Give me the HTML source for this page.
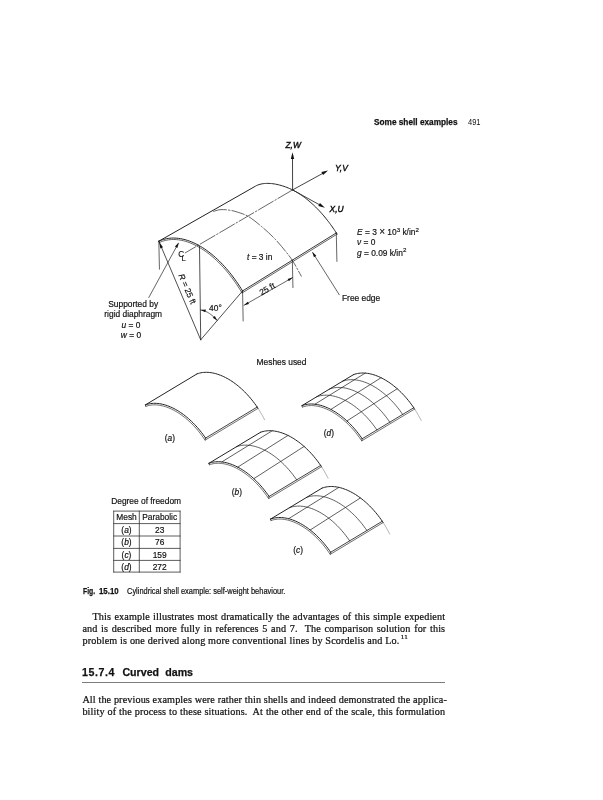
<!DOCTYPE html>
<html lang="en"><head><meta charset="utf-8"><title>Some shell examples</title>
<style>
html,body{margin:0;padding:0;background:#fff;}
body{width:603px;height:800px;position:relative;overflow:hidden;font-family:"Liberation Serif",serif;color:#111;}
svg{position:absolute;left:0;top:0;}
#page{position:absolute;left:0;top:0;width:603px;height:800px;will-change:transform;}
svg text{font-family:"Liberation Sans",sans-serif;fill:#111;stroke:#111;stroke-width:0.18px;}
svg text.lt{stroke-width:0.05px;}
svg text.bd{stroke-width:0.42px;}
.t{position:absolute;white-space:nowrap;line-height:1;}
.sans{font-family:"Liberation Sans",sans-serif;transform-origin:0 0;}
.b{font-weight:bold;-webkit-text-stroke:0.25px #111;}
.body{font-family:"Liberation Serif",serif;font-size:10.2px;letter-spacing:0.12px;left:82.4px;width:362.8px;text-align:justify;text-align-last:justify;-webkit-text-stroke:0.22px #111;}
.hr{position:absolute;left:82.4px;width:362.8px;height:1px;background:#7d7d7d;top:682px;}
sup{font-size:7px;line-height:0;vertical-align:4.1px;letter-spacing:0.3px;margin-left:1.2px;}
</style></head><body>
<div id="page">
<div class="t sans b" id="hd1" style="left:374.4px;top:117.5px;font-size:9.3px;transform:scaleX(0.888)">Some shell examples</div>
<div class="t sans" id="hd2" style="left:467.9px;top:117.5px;font-size:9.3px;transform:scaleX(0.805)">491</div>
<svg width="603" height="800" viewBox="0 0 603 800">
<path d="M158.84 241.19 L160.34 240.54 L161.87 239.96 L163.43 239.46 L165.01 239.04 L166.63 238.68 L168.27 238.41 L169.93 238.21 L171.62 238.09 L173.33 238.05 L175.06 238.08 L176.81 238.19 L178.58 238.38 L180.36 238.64 L182.16 238.98 L183.97 239.40 L185.80 239.89 L187.64 240.46 L189.49 241.10 L191.34 241.82 L193.21 242.61 L195.07 243.47 L196.95 244.41 L198.82 245.42 L200.70 246.50 L202.58 247.65 L204.45 248.87 L206.33 250.16 L208.19 251.52 L210.06 252.94 L211.91 254.43 L213.76 255.99 L215.60 257.60 L217.43 259.28 L219.24 261.02 L221.04 262.82 L222.82 264.68 L224.59 266.60 L226.34 268.57 L228.07 270.59 L229.78 272.67 L231.47 274.79 L233.13 276.97 L234.77 279.19 L236.39 281.46 L237.97 283.78 L239.53 286.13 L241.06 288.53 L242.56 290.96" fill="none" stroke="#222" stroke-width="1.0" stroke-linecap="round" stroke-linejoin="round"/>
<path d="M158.84 241.19 L255.53 186.13 L256.36 185.69 L257.23 185.28 L258.14 184.91 L259.09 184.58 L260.07 184.29 L261.09 184.04 L262.14 183.83 L263.22 183.66 L264.34 183.53 L265.48 183.44 L266.65 183.39 L267.85 183.38 L269.08 183.41 L270.33 183.48 L271.60 183.59 L272.90 183.74 L274.22 183.93 L275.56 184.16 L276.91 184.43 L278.29 184.74 L279.67 185.09 L281.07 185.47 L282.49 185.90 L283.91 186.36 L285.35 186.86 L286.79 187.40 L288.24 187.97 L289.69 188.58 L291.14 189.22 L292.60 189.90 L293.58 190.42 L294.56 190.95 L295.54 191.51 L296.52 192.08 L297.50 192.67 L298.47 193.28 L299.45 193.90 L300.42 194.55 L301.40 195.21 L302.37 195.88 L303.34 196.58 L304.31 197.29 L305.27 198.02 L306.24 198.77 L307.20 199.53 L308.15 200.31 L309.11 201.10 L310.06 201.91 L311.01 202.74 L311.95 203.59 L312.90 204.44 L313.83 205.32 L314.77 206.21 L315.70 207.11 L316.62 208.04 L317.54 208.97 L318.46 209.92 L319.37 210.89 L320.27 211.86 L321.17 212.86 L322.07 213.86 L322.96 214.89 L323.84 215.92 L324.72 216.97 L325.59 218.03 L326.46 219.10 L327.32 220.19 L328.17 221.29 L329.02 222.40 L329.85 223.53 L330.69 224.66 L331.51 225.81 L332.33 226.97 L333.14 228.14 L333.94 229.32 L334.74 230.52 L335.52 231.72 L336.30 232.93" fill="none" stroke="#222" stroke-width="1.0" stroke-linecap="round" stroke-linejoin="round"/>
<path d="M242.56 290.96 L336.30 232.93" fill="none" stroke="#222" stroke-width="0.9" stroke-linecap="round" stroke-linejoin="round"/>
<path d="M159.42 242.52 L160.88 241.89 L162.35 241.33 L163.84 240.85 L165.36 240.44 L166.90 240.11 L168.47 239.85 L170.07 239.66 L171.69 239.54 L173.33 239.50 L175.00 239.53 L176.69 239.64 L178.39 239.82 L180.12 240.07 L181.86 240.40 L183.62 240.81 L185.40 241.28 L187.19 241.84 L188.99 242.46 L190.80 243.16 L192.62 243.93 L194.44 244.78 L196.28 245.70 L198.12 246.69 L199.96 247.75 L201.80 248.88 L203.65 250.08 L205.49 251.35 L207.33 252.68 L209.16 254.08 L210.99 255.55 L212.82 257.09 L214.63 258.68 L216.43 260.34 L218.22 262.06 L220.00 263.84 L221.77 265.68 L223.52 267.57 L225.25 269.52 L226.96 271.52 L228.65 273.58 L230.32 275.68 L231.97 277.84 L233.60 280.04 L235.20 282.29 L236.77 284.59 L238.32 286.92 L239.83 289.30 L242.09 292.96 L337.06 234.17" fill="none" stroke="#222" stroke-width="0.7" stroke-linecap="round" stroke-linejoin="round"/>
<path d="M158.84 241.19 L159.42 242.52" fill="none" stroke="#222" stroke-width="0.7" stroke-linecap="round" stroke-linejoin="round"/>
<path d="M242.56 290.96 L242.09 292.96" fill="none" stroke="#222" stroke-width="0.7" stroke-linecap="round" stroke-linejoin="round"/>
<path d="M336.30 232.93 L337.06 234.17" fill="none" stroke="#222" stroke-width="0.7" stroke-linecap="round" stroke-linejoin="round"/>
<path d="M213.70 211.40 C215.30 210.90 216.83 210.20 218.50 209.90 C220.17 209.60 221.78 209.53 223.70 209.60 C225.62 209.67 227.87 209.93 230.00 210.30 C232.13 210.67 233.43 210.77 236.50 211.80 C239.57 212.83 244.15 213.98 248.40 216.50 C252.65 219.02 257.60 223.18 262.00 226.90 C266.40 230.62 270.83 234.68 274.80 238.80 C278.77 242.92 282.75 247.80 285.80 251.60 C288.85 255.40 290.52 257.50 293.10 261.60 C295.68 265.70 298.57 271.33 301.30 276.20" fill="none" stroke="#333" stroke-width="0.75" stroke-dasharray="13 2 1.5 2" stroke-linecap="round" stroke-linejoin="round"/>
<path d="M292.6 189.9 L185.2 252.9" fill="none" stroke="#333" stroke-width="0.75" stroke-dasharray="17 2 1.5 2" stroke-linecap="round" stroke-linejoin="round"/>
<path d="M158.84 241.19 L159.44 269.19" fill="none" stroke="#222" stroke-width="0.7" stroke-linecap="round" stroke-linejoin="round"/>
<path d="M242.56 290.96 L243.16 320.96" fill="none" stroke="#222" stroke-width="0.7" stroke-linecap="round" stroke-linejoin="round"/>
<path d="M292.34 260.15 L292.94 287.65" fill="none" stroke="#222" stroke-width="0.7" stroke-linecap="round" stroke-linejoin="round"/>
<path d="M336.30 232.93 L336.90 261.43" fill="none" stroke="#222" stroke-width="0.7" stroke-linecap="round" stroke-linejoin="round"/>
<path d="M158.84 241.19 L200.70 339.80" fill="none" stroke="#222" stroke-width="0.8" stroke-linecap="round" stroke-linejoin="round"/>
<path d="M242.56 290.96 L200.70 339.80" fill="none" stroke="#222" stroke-width="0.8" stroke-linecap="round" stroke-linejoin="round"/>
<path d="M199.50 246.40 L200.70 339.80" fill="none" stroke="#222" stroke-width="0.8" stroke-linecap="round" stroke-linejoin="round"/>
<path d="M159.34 242.39 L163.06 247.33 L160.30 248.50 Z" fill="#111" stroke="none"/>
<path d="M200.70 309.94 L201.43 310.04 L202.17 310.19 L202.94 310.37 L203.71 310.61 L204.50 310.88 L205.30 311.20 L206.11 311.57 L206.94 311.98 L207.77 312.44 L208.61 312.95 L209.46 313.50 L210.31 314.09 L211.17 314.74 L212.04 315.43 L212.90 316.16 L213.77 316.94 L214.64 317.77 L215.51 318.64 L216.37 319.55 L217.24 320.51" fill="none" stroke="#222" stroke-width="0.7" stroke-linecap="round" stroke-linejoin="round"/>
<path d="M200.70 309.94 L205.87 309.51 L205.35 312.26 Z" fill="#111" stroke="none"/>
<path d="M217.24 320.51 L212.78 317.84 L214.82 315.92 Z" fill="#111" stroke="none"/>
<path d="M292.60 189.90 L292.50 155.50" fill="none" stroke="#222" stroke-width="0.85" stroke-linecap="round" stroke-linejoin="round"/>
<path d="M292.50 152.30 L294.22 158.90 L290.82 158.90 Z" fill="#111" stroke="none"/>
<path d="M292.60 189.90 L325.60 171.80" fill="none" stroke="#222" stroke-width="0.85" stroke-linecap="round" stroke-linejoin="round"/>
<path d="M328.00 170.40 L323.04 175.07 L321.40 172.10 Z" fill="#111" stroke="none"/>
<path d="M292.60 189.90 L322.40 206.40" fill="none" stroke="#222" stroke-width="0.85" stroke-linecap="round" stroke-linejoin="round"/>
<path d="M324.90 207.80 L318.30 206.09 L319.95 203.11 Z" fill="#111" stroke="none"/>
<path d="M244.00 305.30 L292.60 277.60" fill="none" stroke="#222" stroke-width="0.7" stroke-linecap="round" stroke-linejoin="round"/>
<path d="M244.00 305.30 L247.70 301.69 L248.99 303.95 Z" fill="#111" stroke="none"/>
<path d="M292.60 277.60 L288.90 281.21 L287.61 278.95 Z" fill="#111" stroke="none"/>
<path d="M339.3 294.8 L312.8 252.8" fill="none" stroke="#222" stroke-width="0.7" stroke-linecap="round" stroke-linejoin="round"/>
<path d="M312.20 251.80 L316.32 255.71 L313.95 257.20 Z" fill="#111" stroke="none"/>
<path d="M148.8 297.5 L178.2 243.6" fill="none" stroke="#222" stroke-width="0.7" stroke-linecap="round" stroke-linejoin="round"/>
<path d="M178.80 242.40 L177.40 247.90 L174.94 246.56 Z" fill="#111" stroke="none"/>
<text x="285.50" y="148.30" font-size="8.4" text-anchor="start" class="bd"><tspan style="font-style:italic">Z,W</tspan></text>
<text x="335.00" y="170.50" font-size="8.4" text-anchor="start" class="bd"><tspan style="font-style:italic">Y,V</tspan></text>
<text x="329.60" y="212.30" font-size="8.4" text-anchor="start" class="bd"><tspan style="font-style:italic">X,U</tspan></text>
<text x="357.00" y="235.30" font-size="8.4" text-anchor="start" ><tspan style="font-style:italic">E</tspan> = 3 <tspan font-size="10">×</tspan> 10<tspan dy="-3.4" font-size="6.2">3</tspan><tspan dy="3.4"> k/in</tspan><tspan dy="-3.4" font-size="6.2">2</tspan></text>
<text x="357.00" y="245.40" font-size="8.4" text-anchor="start" ><tspan style="font-style:italic">ν</tspan> = 0</text>
<text x="357.00" y="255.80" font-size="8.4" text-anchor="start" ><tspan style="font-style:italic">g</tspan> = 0.09 k/in<tspan dy="-3.4" font-size="6.2">2</tspan></text>
<text x="247.00" y="260.00" font-size="8.4" text-anchor="start" ><tspan style="font-style:italic">t</tspan> = 3 in</text>
<text x="268.60" y="291.40" font-size="8.4" text-anchor="middle" transform="rotate(-29.7 268.60 291.40)" >25 ft</text>
<text x="342.00" y="301.00" font-size="8.4" text-anchor="start" >Free edge</text>
<text x="133.20" y="307.00" font-size="8.4" text-anchor="middle" >Supported by</text>
<text x="133.20" y="316.70" font-size="8.4" text-anchor="middle" >rigid diaphragm</text>
<text x="131.00" y="328.00" font-size="8.4" text-anchor="middle" ><tspan style="font-style:italic">u</tspan> = 0</text>
<text x="131.00" y="337.50" font-size="8.4" text-anchor="middle" ><tspan style="font-style:italic">w</tspan> = 0</text>
<text x="184.60" y="290.00" font-size="8.4" text-anchor="middle" transform="rotate(67 184.60 290.00)" ><tspan style="font-style:italic">R</tspan> = 25 ft</text>
<text x="209.10" y="311.20" font-size="8.4" text-anchor="start" >40°</text>
<text x="178.20" y="256.70" font-size="8.2" text-anchor="start" >C</text>
<text x="181.40" y="260.90" font-size="7.6" text-anchor="start" >L</text>
<text x="256.60" y="364.60" font-size="8.4" text-anchor="start" >Meshes used</text>
<path d="M145.40 404.90 L146.67 404.46 L147.97 404.10 L149.31 403.80 L150.68 403.57 L152.08 403.41 L153.51 403.33 L154.97 403.31 L156.45 403.36 L157.95 403.49 L159.48 403.68 L161.02 403.95 L162.58 404.28 L164.16 404.68 L165.75 405.15 L167.36 405.69 L168.97 406.30 L170.59 406.97 L172.22 407.71 L173.85 408.52 L175.48 409.39 L177.12 410.32 L178.75 411.31 L180.37 412.37 L182.00 413.48 L183.61 414.65 L185.21 415.88 L186.80 417.17 L188.38 418.50 L189.94 419.89 L191.49 421.33 L193.01 422.82 L194.52 424.35 L196.00 425.93 L197.45 427.55 L198.88 429.21 L200.28 430.92 L201.65 432.65 L202.99 434.43 L204.30 436.23 L205.56 438.07" fill="none" stroke="#222" stroke-width="1.0" stroke-linecap="round" stroke-linejoin="round"/>
<path d="M197.00 373.90 L198.27 373.46 L199.57 373.10 L200.91 372.80 L202.28 372.57 L203.68 372.41 L205.11 372.33 L206.57 372.31 L208.05 372.36 L209.55 372.49 L211.08 372.68 L212.62 372.95 L214.18 373.28 L215.76 373.68 L217.35 374.15 L218.96 374.69 L220.57 375.30 L222.19 375.97 L223.82 376.71 L225.45 377.52 L227.08 378.39 L228.72 379.32 L230.35 380.31 L231.97 381.37 L233.60 382.48 L235.21 383.65 L236.81 384.88 L238.40 386.17 L239.98 387.50 L241.54 388.89 L243.09 390.33 L244.61 391.82 L246.12 393.35 L247.60 394.93 L249.05 396.55 L250.48 398.21 L251.88 399.92 L253.25 401.65 L254.59 403.43 L255.90 405.23 L257.16 407.07" fill="none" stroke="#222" stroke-width="1.0" stroke-linecap="round" stroke-linejoin="round"/>
<path d="M257.16 407.07 L257.37 407.37 L257.58 407.68 L257.78 407.99 L257.98 408.29 L258.18 408.60 L258.39 408.91 L258.59 409.22 L258.78 409.53 L258.98 409.84 L259.18 410.16 L259.37 410.47 L259.57 410.78 L259.76 411.10 L259.95 411.41 L260.15 411.73 L260.34 412.04 L260.53 412.36 L260.71 412.68 L260.90 412.99 L261.09 413.31 L261.27 413.63 L261.45 413.95 L261.64 414.27 L261.82 414.59 L262.00 414.91 L262.18 415.23 L262.35 415.55 L262.53 415.88 L262.71 416.20 L262.88 416.52 L263.05 416.85 L263.23 417.17 L263.40 417.49 L263.57 417.82 L263.73 418.15 L263.90 418.47 L264.07 418.80 L264.23 419.12 L264.39 419.45 L264.56 419.78" fill="none" stroke="#666" stroke-width="0.55" stroke-linecap="round" stroke-linejoin="round"/>
<path d="M145.40 404.90 L197.00 373.90" fill="none" stroke="#222" stroke-width="1.0" stroke-linecap="round" stroke-linejoin="round"/>
<path d="M205.56 438.07 L257.16 407.07" fill="none" stroke="#222" stroke-width="0.85" stroke-linecap="round" stroke-linejoin="round"/>
<path d="M145.90 406.37 L147.13 405.94 L148.35 405.60 L149.61 405.32 L150.90 405.11 L152.22 404.96 L153.57 404.88 L154.95 404.86 L156.36 404.91 L157.79 405.03 L159.25 405.22 L160.73 405.47 L162.23 405.79 L163.75 406.18 L165.28 406.63 L166.84 407.15 L168.40 407.74 L169.97 408.40 L171.55 409.12 L173.14 409.90 L174.73 410.75 L176.33 411.66 L177.92 412.63 L179.51 413.66 L181.10 414.75 L182.68 415.90 L184.25 417.10 L185.82 418.36 L187.37 419.67 L188.90 421.04 L190.42 422.45 L191.92 423.92 L193.40 425.42 L194.86 426.98 L196.29 428.58 L197.70 430.21 L199.08 431.89 L200.43 433.60 L201.74 435.35 L203.03 437.13 L205.12 440.15 L257.96 408.40" fill="none" stroke="#222" stroke-width="0.65" stroke-linecap="round" stroke-linejoin="round"/>
<path d="M145.40 404.90 L145.90 406.37" fill="none" stroke="#222" stroke-width="0.6" stroke-linecap="round" stroke-linejoin="round"/>
<path d="M205.56 438.07 L205.12 440.15" fill="none" stroke="#222" stroke-width="0.6" stroke-linecap="round" stroke-linejoin="round"/>
<path d="M257.16 407.07 L257.96 408.40" fill="none" stroke="#222" stroke-width="0.6" stroke-linecap="round" stroke-linejoin="round"/>
<path d="M208.90 463.30 L210.17 462.86 L211.47 462.50 L212.81 462.20 L214.18 461.97 L215.58 461.81 L217.01 461.73 L218.47 461.71 L219.95 461.76 L221.45 461.89 L222.98 462.08 L224.52 462.35 L226.08 462.68 L227.66 463.08 L229.25 463.55 L230.86 464.09 L232.47 464.70 L234.09 465.37 L235.72 466.11 L237.35 466.92 L238.98 467.79 L240.62 468.72 L242.25 469.71 L243.87 470.77 L245.50 471.88 L247.11 473.05 L248.71 474.28 L250.30 475.57 L251.88 476.90 L253.44 478.29 L254.99 479.73 L256.51 481.22 L258.02 482.75 L259.50 484.33 L260.95 485.95 L262.38 487.61 L263.78 489.32 L265.15 491.05 L266.49 492.83 L267.80 494.63 L269.06 496.47" fill="none" stroke="#222" stroke-width="1.0" stroke-linecap="round" stroke-linejoin="round"/>
<path d="M260.50 432.30 L261.77 431.86 L263.07 431.50 L264.41 431.20 L265.78 430.97 L267.18 430.81 L268.61 430.73 L270.07 430.71 L271.55 430.76 L273.05 430.89 L274.58 431.08 L276.12 431.35 L277.68 431.68 L279.26 432.08 L280.85 432.55 L282.46 433.09 L284.07 433.70 L285.69 434.37 L287.32 435.11 L288.95 435.92 L290.58 436.79 L292.22 437.72 L293.85 438.71 L295.47 439.77 L297.10 440.88 L298.71 442.05 L300.31 443.28 L301.90 444.57 L303.48 445.90 L305.04 447.29 L306.59 448.73 L308.11 450.22 L309.62 451.75 L311.10 453.33 L312.55 454.95 L313.98 456.61 L315.38 458.32 L316.75 460.05 L318.09 461.83 L319.40 463.63 L320.66 465.47" fill="none" stroke="#222" stroke-width="1.0" stroke-linecap="round" stroke-linejoin="round"/>
<path d="M320.66 465.47 L320.87 465.77 L321.08 466.08 L321.28 466.39 L321.48 466.69 L321.68 467.00 L321.89 467.31 L322.09 467.62 L322.28 467.93 L322.48 468.24 L322.68 468.56 L322.87 468.87 L323.07 469.18 L323.26 469.50 L323.45 469.81 L323.65 470.13 L323.84 470.44 L324.03 470.76 L324.21 471.08 L324.40 471.39 L324.59 471.71 L324.77 472.03 L324.95 472.35 L325.14 472.67 L325.32 472.99 L325.50 473.31 L325.68 473.63 L325.85 473.95 L326.03 474.28 L326.21 474.60 L326.38 474.92 L326.55 475.25 L326.73 475.57 L326.90 475.89 L327.07 476.22 L327.23 476.55 L327.40 476.87 L327.57 477.20 L327.73 477.52 L327.89 477.85 L328.06 478.18" fill="none" stroke="#666" stroke-width="0.55" stroke-linecap="round" stroke-linejoin="round"/>
<path d="M208.90 463.30 L260.50 432.30" fill="none" stroke="#222" stroke-width="1.0" stroke-linecap="round" stroke-linejoin="round"/>
<path d="M269.06 496.47 L320.66 465.47" fill="none" stroke="#222" stroke-width="0.85" stroke-linecap="round" stroke-linejoin="round"/>
<path d="M209.40 464.77 L210.63 464.34 L211.85 464.00 L213.11 463.72 L214.40 463.51 L215.72 463.36 L217.07 463.28 L218.45 463.26 L219.86 463.31 L221.29 463.43 L222.75 463.62 L224.23 463.87 L225.73 464.19 L227.25 464.58 L228.78 465.03 L230.34 465.55 L231.90 466.14 L233.47 466.80 L235.05 467.52 L236.64 468.30 L238.23 469.15 L239.83 470.06 L241.42 471.03 L243.01 472.06 L244.60 473.15 L246.18 474.30 L247.75 475.50 L249.32 476.76 L250.87 478.07 L252.40 479.44 L253.92 480.85 L255.42 482.32 L256.90 483.82 L258.36 485.38 L259.79 486.98 L261.20 488.61 L262.58 490.29 L263.93 492.00 L265.24 493.75 L266.53 495.53 L268.62 498.55 L321.46 466.80" fill="none" stroke="#222" stroke-width="0.65" stroke-linecap="round" stroke-linejoin="round"/>
<path d="M208.90 463.30 L209.40 464.77" fill="none" stroke="#222" stroke-width="0.6" stroke-linecap="round" stroke-linejoin="round"/>
<path d="M269.06 496.47 L268.62 498.55" fill="none" stroke="#222" stroke-width="0.6" stroke-linecap="round" stroke-linejoin="round"/>
<path d="M320.66 465.47 L321.46 466.80" fill="none" stroke="#222" stroke-width="0.6" stroke-linecap="round" stroke-linejoin="round"/>
<path d="M221.83 461.93 L272.15 430.81" fill="none" stroke="#222" stroke-width="0.72" stroke-linecap="round" stroke-linejoin="round"/>
<path d="M237.76 467.13 L287.97 435.43" fill="none" stroke="#222" stroke-width="0.72" stroke-linecap="round" stroke-linejoin="round"/>
<path d="M253.83 478.65 L304.11 446.45" fill="none" stroke="#222" stroke-width="0.72" stroke-linecap="round" stroke-linejoin="round"/>
<path d="M236.51 446.72 L237.78 446.28 L239.08 445.91 L240.42 445.61 L241.79 445.39 L243.19 445.23 L244.62 445.14 L246.07 445.13 L247.55 445.18 L249.06 445.30 L250.58 445.50 L252.13 445.76 L253.69 446.09 L255.27 446.50 L256.86 446.97 L258.46 447.51 L260.08 448.12 L261.70 448.79 L263.32 449.53 L264.96 450.33 L266.59 451.20 L268.22 452.14 L269.85 453.13 L271.48 454.18 L273.10 455.30 L274.72 456.47 L276.32 457.70 L277.91 458.98 L279.49 460.32 L281.05 461.71 L282.60 463.15 L284.12 464.63 L285.62 466.17 L287.10 467.75 L288.56 469.37 L289.99 471.03 L291.39 472.73 L292.76 474.47 L294.10 476.24 L295.40 478.05 L296.67 479.88" fill="none" stroke="#222" stroke-width="0.72" stroke-linecap="round" stroke-linejoin="round"/>
<path d="M270.50 519.10 L271.77 518.66 L273.07 518.30 L274.41 518.00 L275.78 517.77 L277.18 517.61 L278.61 517.53 L280.07 517.51 L281.55 517.56 L283.05 517.69 L284.58 517.88 L286.12 518.15 L287.68 518.48 L289.26 518.88 L290.85 519.35 L292.46 519.89 L294.07 520.50 L295.69 521.17 L297.32 521.91 L298.95 522.72 L300.58 523.59 L302.22 524.52 L303.85 525.51 L305.47 526.57 L307.10 527.68 L308.71 528.85 L310.31 530.08 L311.90 531.37 L313.48 532.70 L315.04 534.09 L316.59 535.53 L318.11 537.02 L319.62 538.55 L321.10 540.13 L322.55 541.75 L323.98 543.41 L325.38 545.12 L326.75 546.85 L328.09 548.63 L329.40 550.43 L330.66 552.27" fill="none" stroke="#222" stroke-width="1.0" stroke-linecap="round" stroke-linejoin="round"/>
<path d="M322.10 488.10 L323.37 487.66 L324.67 487.30 L326.01 487.00 L327.38 486.77 L328.78 486.61 L330.21 486.53 L331.67 486.51 L333.15 486.56 L334.65 486.69 L336.18 486.88 L337.72 487.15 L339.28 487.48 L340.86 487.88 L342.45 488.35 L344.06 488.89 L345.67 489.50 L347.29 490.17 L348.92 490.91 L350.55 491.72 L352.18 492.59 L353.82 493.52 L355.45 494.51 L357.07 495.57 L358.70 496.68 L360.31 497.85 L361.91 499.08 L363.50 500.37 L365.08 501.70 L366.64 503.09 L368.19 504.53 L369.71 506.02 L371.22 507.55 L372.70 509.13 L374.15 510.75 L375.58 512.41 L376.98 514.12 L378.35 515.85 L379.69 517.63 L381.00 519.43 L382.26 521.27" fill="none" stroke="#222" stroke-width="1.0" stroke-linecap="round" stroke-linejoin="round"/>
<path d="M382.26 521.27 L382.47 521.57 L382.68 521.88 L382.88 522.19 L383.08 522.49 L383.28 522.80 L383.49 523.11 L383.69 523.42 L383.88 523.73 L384.08 524.04 L384.28 524.36 L384.47 524.67 L384.67 524.98 L384.86 525.30 L385.05 525.61 L385.25 525.93 L385.44 526.24 L385.63 526.56 L385.81 526.88 L386.00 527.19 L386.19 527.51 L386.37 527.83 L386.55 528.15 L386.74 528.47 L386.92 528.79 L387.10 529.11 L387.28 529.43 L387.45 529.75 L387.63 530.08 L387.81 530.40 L387.98 530.72 L388.15 531.05 L388.33 531.37 L388.50 531.69 L388.67 532.02 L388.83 532.35 L389.00 532.67 L389.17 533.00 L389.33 533.32 L389.49 533.65 L389.66 533.98" fill="none" stroke="#666" stroke-width="0.55" stroke-linecap="round" stroke-linejoin="round"/>
<path d="M270.50 519.10 L322.10 488.10" fill="none" stroke="#222" stroke-width="1.0" stroke-linecap="round" stroke-linejoin="round"/>
<path d="M330.66 552.27 L382.26 521.27" fill="none" stroke="#222" stroke-width="0.85" stroke-linecap="round" stroke-linejoin="round"/>
<path d="M271.00 520.57 L272.23 520.14 L273.45 519.80 L274.71 519.52 L276.00 519.31 L277.32 519.16 L278.67 519.08 L280.05 519.06 L281.46 519.11 L282.89 519.23 L284.35 519.42 L285.83 519.67 L287.33 519.99 L288.85 520.38 L290.38 520.83 L291.94 521.35 L293.50 521.94 L295.07 522.60 L296.65 523.32 L298.24 524.10 L299.83 524.95 L301.43 525.86 L303.02 526.83 L304.61 527.86 L306.20 528.95 L307.78 530.10 L309.35 531.30 L310.92 532.56 L312.47 533.87 L314.00 535.24 L315.52 536.65 L317.02 538.12 L318.50 539.62 L319.96 541.18 L321.39 542.78 L322.80 544.41 L324.18 546.09 L325.53 547.80 L326.84 549.55 L328.13 551.33 L330.22 554.35 L383.06 522.60" fill="none" stroke="#222" stroke-width="0.65" stroke-linecap="round" stroke-linejoin="round"/>
<path d="M270.50 519.10 L271.00 520.57" fill="none" stroke="#222" stroke-width="0.6" stroke-linecap="round" stroke-linejoin="round"/>
<path d="M330.66 552.27 L330.22 554.35" fill="none" stroke="#222" stroke-width="0.6" stroke-linecap="round" stroke-linejoin="round"/>
<path d="M382.26 521.27 L383.06 522.60" fill="none" stroke="#222" stroke-width="0.6" stroke-linecap="round" stroke-linejoin="round"/>
<path d="M288.60 518.71 L338.86 487.38" fill="none" stroke="#222" stroke-width="0.72" stroke-linecap="round" stroke-linejoin="round"/>
<path d="M310.18 529.98 L360.42 497.93" fill="none" stroke="#222" stroke-width="0.72" stroke-linecap="round" stroke-linejoin="round"/>
<path d="M289.51 507.68 L290.78 507.25 L292.08 506.88 L293.42 506.58 L294.79 506.35 L296.19 506.20 L297.62 506.11 L299.07 506.09 L300.55 506.15 L302.06 506.27 L303.58 506.46 L305.13 506.73 L306.69 507.06 L308.27 507.46 L309.86 507.94 L311.46 508.48 L313.08 509.08 L314.70 509.76 L316.32 510.50 L317.96 511.30 L319.59 512.17 L321.22 513.10 L322.85 514.10 L324.48 515.15 L326.10 516.26 L327.72 517.44 L329.32 518.66 L330.91 519.95 L332.49 521.28 L334.05 522.67 L335.60 524.11 L337.12 525.60 L338.62 527.13 L340.10 528.71 L341.56 530.33 L342.99 532.00 L344.39 533.70 L345.76 535.44 L347.10 537.21 L348.40 539.01 L349.67 540.85" fill="none" stroke="#222" stroke-width="0.72" stroke-linecap="round" stroke-linejoin="round"/>
<path d="M306.71 497.35 L307.98 496.91 L309.28 496.55 L310.62 496.25 L311.99 496.02 L313.39 495.86 L314.82 495.78 L316.27 495.76 L317.75 495.81 L319.26 495.94 L320.78 496.13 L322.33 496.39 L323.89 496.73 L325.47 497.13 L327.06 497.60 L328.66 498.14 L330.28 498.75 L331.90 499.42 L333.52 500.16 L335.16 500.97 L336.79 501.84 L338.42 502.77 L340.05 503.76 L341.68 504.82 L343.30 505.93 L344.92 507.10 L346.52 508.33 L348.11 509.61 L349.69 510.95 L351.25 512.34 L352.80 513.78 L354.32 515.27 L355.82 516.80 L357.30 518.38 L358.76 520.00 L360.19 521.66 L361.59 523.36 L362.96 525.10 L364.30 526.88 L365.60 528.68 L366.87 530.52" fill="none" stroke="#222" stroke-width="0.72" stroke-linecap="round" stroke-linejoin="round"/>
<path d="M302.00 405.60 L303.27 405.16 L304.57 404.80 L305.91 404.50 L307.28 404.27 L308.68 404.11 L310.11 404.03 L311.57 404.01 L313.05 404.06 L314.55 404.19 L316.08 404.38 L317.62 404.65 L319.18 404.98 L320.76 405.38 L322.35 405.85 L323.96 406.39 L325.57 407.00 L327.19 407.67 L328.82 408.41 L330.45 409.22 L332.08 410.09 L333.72 411.02 L335.35 412.01 L336.97 413.07 L338.60 414.18 L340.21 415.35 L341.81 416.58 L343.40 417.87 L344.98 419.20 L346.54 420.59 L348.09 422.03 L349.61 423.52 L351.12 425.05 L352.60 426.63 L354.05 428.25 L355.48 429.91 L356.88 431.62 L358.25 433.35 L359.59 435.13 L360.90 436.93 L362.16 438.77" fill="none" stroke="#222" stroke-width="1.0" stroke-linecap="round" stroke-linejoin="round"/>
<path d="M353.60 374.60 L354.87 374.16 L356.17 373.80 L357.51 373.50 L358.88 373.27 L360.28 373.11 L361.71 373.03 L363.17 373.01 L364.65 373.06 L366.15 373.19 L367.68 373.38 L369.22 373.65 L370.78 373.98 L372.36 374.38 L373.95 374.85 L375.56 375.39 L377.17 376.00 L378.79 376.67 L380.42 377.41 L382.05 378.22 L383.68 379.09 L385.32 380.02 L386.95 381.01 L388.57 382.07 L390.20 383.18 L391.81 384.35 L393.41 385.58 L395.00 386.87 L396.58 388.20 L398.14 389.59 L399.69 391.03 L401.21 392.52 L402.72 394.05 L404.20 395.63 L405.65 397.25 L407.08 398.91 L408.48 400.62 L409.85 402.35 L411.19 404.13 L412.50 405.93 L413.76 407.77" fill="none" stroke="#222" stroke-width="1.0" stroke-linecap="round" stroke-linejoin="round"/>
<path d="M413.76 407.77 L413.97 408.07 L414.18 408.38 L414.38 408.69 L414.58 408.99 L414.78 409.30 L414.99 409.61 L415.19 409.92 L415.38 410.23 L415.58 410.54 L415.78 410.86 L415.97 411.17 L416.17 411.48 L416.36 411.80 L416.55 412.11 L416.75 412.43 L416.94 412.74 L417.13 413.06 L417.31 413.38 L417.50 413.69 L417.69 414.01 L417.87 414.33 L418.05 414.65 L418.24 414.97 L418.42 415.29 L418.60 415.61 L418.78 415.93 L418.95 416.25 L419.13 416.58 L419.31 416.90 L419.48 417.22 L419.65 417.55 L419.83 417.87 L420.00 418.19 L420.17 418.52 L420.33 418.85 L420.50 419.17 L420.67 419.50 L420.83 419.82 L420.99 420.15 L421.16 420.48" fill="none" stroke="#666" stroke-width="0.55" stroke-linecap="round" stroke-linejoin="round"/>
<path d="M302.00 405.60 L353.60 374.60" fill="none" stroke="#222" stroke-width="1.0" stroke-linecap="round" stroke-linejoin="round"/>
<path d="M362.16 438.77 L413.76 407.77" fill="none" stroke="#222" stroke-width="0.85" stroke-linecap="round" stroke-linejoin="round"/>
<path d="M302.50 407.07 L303.73 406.64 L304.95 406.30 L306.21 406.02 L307.50 405.81 L308.82 405.66 L310.17 405.58 L311.55 405.56 L312.96 405.61 L314.39 405.73 L315.85 405.92 L317.33 406.17 L318.83 406.49 L320.35 406.88 L321.88 407.33 L323.44 407.85 L325.00 408.44 L326.57 409.10 L328.15 409.82 L329.74 410.60 L331.33 411.45 L332.93 412.36 L334.52 413.33 L336.11 414.36 L337.70 415.45 L339.28 416.60 L340.85 417.80 L342.42 419.06 L343.97 420.37 L345.50 421.74 L347.02 423.15 L348.52 424.62 L350.00 426.12 L351.46 427.68 L352.89 429.28 L354.30 430.91 L355.68 432.59 L357.03 434.30 L358.34 436.05 L359.63 437.83 L361.72 440.85 L414.56 409.10" fill="none" stroke="#222" stroke-width="0.65" stroke-linecap="round" stroke-linejoin="round"/>
<path d="M302.00 405.60 L302.50 407.07" fill="none" stroke="#222" stroke-width="0.6" stroke-linecap="round" stroke-linejoin="round"/>
<path d="M362.16 438.77 L361.72 440.85" fill="none" stroke="#222" stroke-width="0.6" stroke-linecap="round" stroke-linejoin="round"/>
<path d="M413.76 407.77 L414.56 409.10" fill="none" stroke="#222" stroke-width="0.6" stroke-linecap="round" stroke-linejoin="round"/>
<path d="M314.93 404.23 L365.25 373.11" fill="none" stroke="#222" stroke-width="0.72" stroke-linecap="round" stroke-linejoin="round"/>
<path d="M330.86 409.43 L381.07 377.73" fill="none" stroke="#222" stroke-width="0.72" stroke-linecap="round" stroke-linejoin="round"/>
<path d="M346.93 420.95 L397.21 388.75" fill="none" stroke="#222" stroke-width="0.72" stroke-linecap="round" stroke-linejoin="round"/>
<path d="M316.71 396.77 L317.98 396.33 L319.28 395.96 L320.62 395.66 L321.99 395.44 L323.39 395.28 L324.82 395.19 L326.27 395.18 L327.75 395.23 L329.26 395.35 L330.78 395.55 L332.33 395.81 L333.89 396.14 L335.47 396.55 L337.06 397.02 L338.66 397.56 L340.28 398.17 L341.90 398.84 L343.52 399.58 L345.16 400.38 L346.79 401.25 L348.42 402.19 L350.05 403.18 L351.68 404.23 L353.30 405.35 L354.92 406.52 L356.52 407.75 L358.11 409.03 L359.69 410.37 L361.25 411.76 L362.80 413.20 L364.32 414.68 L365.82 416.22 L367.30 417.80 L368.76 419.42 L370.19 421.08 L371.59 422.78 L372.96 424.52 L374.30 426.29 L375.60 428.10 L376.87 429.93" fill="none" stroke="#222" stroke-width="0.72" stroke-linecap="round" stroke-linejoin="round"/>
<path d="M329.61 389.02 L330.88 388.58 L332.18 388.21 L333.52 387.91 L334.89 387.69 L336.29 387.53 L337.72 387.44 L339.17 387.43 L340.65 387.48 L342.16 387.60 L343.68 387.80 L345.23 388.06 L346.79 388.39 L348.37 388.80 L349.96 389.27 L351.56 389.81 L353.18 390.42 L354.80 391.09 L356.42 391.83 L358.06 392.63 L359.69 393.50 L361.32 394.44 L362.95 395.43 L364.58 396.48 L366.20 397.60 L367.82 398.77 L369.42 400.00 L371.01 401.28 L372.59 402.62 L374.15 404.01 L375.70 405.45 L377.22 406.93 L378.72 408.47 L380.20 410.05 L381.66 411.67 L383.09 413.33 L384.49 415.03 L385.86 416.77 L387.20 418.54 L388.50 420.35 L389.77 422.18" fill="none" stroke="#222" stroke-width="0.72" stroke-linecap="round" stroke-linejoin="round"/>
<path d="M342.51 381.27 L343.78 380.83 L345.08 380.46 L346.42 380.16 L347.79 379.94 L349.19 379.78 L350.62 379.69 L352.07 379.68 L353.55 379.73 L355.06 379.85 L356.58 380.05 L358.13 380.31 L359.69 380.64 L361.27 381.05 L362.86 381.52 L364.46 382.06 L366.08 382.67 L367.70 383.34 L369.32 384.08 L370.96 384.88 L372.59 385.75 L374.22 386.69 L375.85 387.68 L377.48 388.73 L379.10 389.85 L380.72 391.02 L382.32 392.25 L383.91 393.53 L385.49 394.87 L387.05 396.26 L388.60 397.70 L390.12 399.18 L391.62 400.72 L393.10 402.30 L394.56 403.92 L395.99 405.58 L397.39 407.28 L398.76 409.02 L400.10 410.79 L401.40 412.60 L402.67 414.43" fill="none" stroke="#222" stroke-width="0.72" stroke-linecap="round" stroke-linejoin="round"/>
<text x="164.80" y="440.80" font-size="8.3" text-anchor="start" >(<tspan style="font-style:italic">a</tspan>)</text>
<text x="231.80" y="495.00" font-size="8.3" text-anchor="start" >(<tspan style="font-style:italic">b</tspan>)</text>
<text x="293.30" y="553.00" font-size="8.3" text-anchor="start" >(<tspan style="font-style:italic">c</tspan>)</text>
<text x="323.80" y="436.00" font-size="8.3" text-anchor="start" >(<tspan style="font-style:italic">d</tspan>)</text>
<text x="111.20" y="504.30" font-size="8.4" text-anchor="start" >Degree of freedom</text>
<path d="M113.7 511.1 L180.1 511.1" fill="none" stroke="#333" stroke-width="0.8" stroke-linecap="round" stroke-linejoin="round"/>
<path d="M113.7 523.6 L180.1 523.6" fill="none" stroke="#333" stroke-width="0.8" stroke-linecap="round" stroke-linejoin="round"/>
<path d="M113.7 536.0 L180.1 536.0" fill="none" stroke="#333" stroke-width="0.8" stroke-linecap="round" stroke-linejoin="round"/>
<path d="M113.7 548.4 L180.1 548.4" fill="none" stroke="#333" stroke-width="0.8" stroke-linecap="round" stroke-linejoin="round"/>
<path d="M113.7 560.4 L180.1 560.4" fill="none" stroke="#333" stroke-width="0.8" stroke-linecap="round" stroke-linejoin="round"/>
<path d="M113.7 572.1 L180.1 572.1" fill="none" stroke="#333" stroke-width="0.8" stroke-linecap="round" stroke-linejoin="round"/>
<path d="M113.7 511.1 L113.7 572.1" fill="none" stroke="#333" stroke-width="0.8" stroke-linecap="round" stroke-linejoin="round"/>
<path d="M139.3 511.1 L139.3 572.1" fill="none" stroke="#333" stroke-width="0.8" stroke-linecap="round" stroke-linejoin="round"/>
<path d="M180.1 511.1 L180.1 572.1" fill="none" stroke="#333" stroke-width="0.8" stroke-linecap="round" stroke-linejoin="round"/>
<text x="126.50" y="520.30" font-size="8.4" text-anchor="middle" >Mesh</text>
<text x="159.70" y="520.30" font-size="8.4" text-anchor="middle" >Parabolic</text>
<text x="126.50" y="532.80" font-size="8.4" text-anchor="middle" >(<tspan style="font-style:italic">a</tspan>)</text>
<text x="159.70" y="532.80" font-size="8.4" text-anchor="middle" >23</text>
<text x="126.50" y="545.20" font-size="8.4" text-anchor="middle" >(<tspan style="font-style:italic">b</tspan>)</text>
<text x="159.70" y="545.20" font-size="8.4" text-anchor="middle" >76</text>
<text x="126.50" y="557.60" font-size="8.4" text-anchor="middle" >(<tspan style="font-style:italic">c</tspan>)</text>
<text x="159.70" y="557.60" font-size="8.4" text-anchor="middle" >159</text>
<text x="126.50" y="569.60" font-size="8.4" text-anchor="middle" >(<tspan style="font-style:italic">d</tspan>)</text>
<text x="159.70" y="569.60" font-size="8.4" text-anchor="middle" >272</text>
</svg>
<div class="t sans b" id="cap1" style="left:82.9px;top:586.7px;font-size:9.2px;transform:scaleX(0.74)">Fig.</div>
<div class="t sans b" id="cap1b" style="left:99.3px;top:586.7px;font-size:9.2px;transform:scaleX(0.855)">15.10</div>
<div class="t sans" id="cap2" style="left:126.8px;top:586.7px;font-size:9.2px;transform:scaleX(0.812);-webkit-text-stroke:0.2px #111">Cylindrical shell example: self-weight behaviour.</div>
<div class="t body" id="b1" style="top:611.5px;left:92.5px;width:352.7px">This example illustrates most dramatically the advantages of this simple expedient</div>
<div class="t body" id="b2" style="top:623.5px">and is described more fully in references 5 and 7.&nbsp; The comparison solution for this</div>
<div class="t body" id="b3" style="top:635.5px;text-align-last:left;width:auto;letter-spacing:0.15px">problem is one derived along more conventional lines by Scordelis and Lo.<sup>11</sup></div>
<div class="t sans b" id="h2" style="left:82.4px;top:667.1px;font-size:11.5px;transform:scaleX(0.924);word-spacing:3.5px"><span style="letter-spacing:0.6px">15.7.4</span><span style="margin-left:8.2px">Curved dams</span></div>
<div class="hr"></div>
<div class="t body" id="b4" style="top:694.5px">All the previous examples were rather thin shells and indeed demonstrated the applica-</div>
<div class="t body" id="b5" style="top:706.5px">bility of the process to these situations.&nbsp; At the other end of the scale, this formulation</div>
</div>
</body></html>
